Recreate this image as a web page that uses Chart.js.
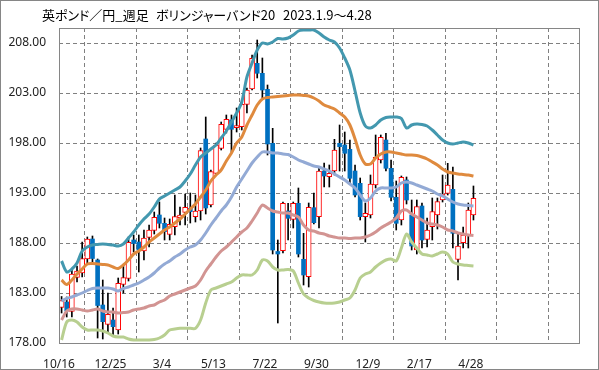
<!DOCTYPE html>
<html>
<head>
<meta charset="utf-8">
<script src="https://cdn.jsdelivr.net/npm/chart.js@4/dist/chart.umd.min.js"></script>
<style>
  body { margin: 0; background: #fff; }
  #wrap { position: relative; width: 599px; height: 370px; }
  #title { position: absolute; top: 5px; left: 0; font: 13px "Noto Sans CJK JP"; color: #000; font-feature-settings: "palt"; white-space: nowrap; }
  #title span { position: absolute; top: 0; }
</style>
</head>
<body>
<div id="wrap">
  <canvas id="chart" width="599" height="370"></canvas>
  <div id="title"><span style="left:42px">英ポンド／円_週足</span><span style="left:156px">ボリンジャーバンド20</span><span style="left:283px">2023.1.9〜4.28</span></div>
</div>
<script>
// ラベル（10週ごと）
const weekLabels = ["10/16", "12/25", "3/4", "5/13", "7/22", "9/30", "12/9", "2/17", "4/28", "", ""];
const yTicks = [178, 183, 188, 193, 198, 203, 208];

// 週足 OHLC
const opens = [181.55, 182.1, 181.15, 184.55, 185.0, 186.4, 188.4, 186.3, 181.8, 179.85,
  180.3, 179.3, 183.87, 184.47, 188.3, 188.1, 187.2, 188.55, 189.25, 190.8,
  189.97, 188.87, 189.63, 190.53, 191.07, 191.47, 190.63, 191.2, 198.4, 191.8,
  194.97, 197.47, 199.37, 200.3, 199.53, 199.63, 201.87, 203.4, 205.97, 204.97,
  203.37, 197.97, 187.15, 187.23, 191.2, 190.37, 191.97, 186.37, 184.63, 191.53,
  190.63, 195.2, 194.63, 195.2, 197.97, 197.8, 197.37, 195.2, 193.97, 190.63,
  190.8, 193.8, 196.3, 198.3, 195.47, 192.57, 190.3, 194.3, 190.8, 187.3,
  191.7, 188.37, 189.63, 190.8, 192.3, 192.97, 193.37, 186.37, 188.03, 188.8,
  190.8];
const highs = [182.65, 182.6, 185.3, 185.7, 188.1, 188.6, 188.7, 186.4, 184.3, 183.0,
  181.5, 184.5, 185.8, 188.6, 188.8, 188.8, 189.3, 189.8, 191.1, 192.1,
  190.5, 190.4, 192.8, 191.6, 192.9, 193.0, 192.8, 197.5, 200.6, 195.3,
  198.0, 200.1, 200.8, 200.8, 201.5, 202.1, 203.5, 206.8, 208.3, 206.5,
  203.8, 199.47, 188.3, 192.1, 191.97, 192.1, 193.5, 188.97, 192.0, 193.0,
  195.6, 196.0, 195.8, 198.37, 199.8, 199.1, 198.3, 195.8, 194.5, 192.0,
  194.8, 198.8, 198.8, 198.97, 196.3, 194.2, 194.7, 194.6, 192.3, 192.3,
  192.0, 190.5, 192.5, 192.5, 194.8, 195.97, 195.6, 188.97, 189.6, 192.0,
  193.7];
const lows = [181.0, 180.6, 180.6, 184.1, 184.6, 186.0, 186.0, 178.5, 178.4, 179.0,
  178.8, 178.9, 183.0, 184.2, 187.1, 185.1, 186.3, 187.6, 188.9, 189.5,
  188.3, 188.3, 188.8, 189.8, 189.8, 190.0, 190.1, 190.3, 190.9, 191.6,
  194.8, 197.3, 199.0, 197.1, 199.1, 199.3, 201.0, 203.3, 204.5, 202.5,
  196.8, 186.9, 180.0, 187.0, 188.3, 189.5, 186.6, 183.8, 183.6, 189.9,
  189.5, 193.6, 193.6, 194.8, 195.2, 195.2, 194.0, 192.6, 190.3, 188.1,
  190.5, 193.5, 196.0, 195.2, 192.2, 189.3, 189.8, 191.9, 187.3, 186.9,
  187.5, 187.6, 188.3, 189.4, 192.1, 192.8, 187.5, 184.3, 187.5, 187.5,
  190.3];
const closes = [182.25, 181.2, 184.9, 185.2, 186.45, 188.4, 186.45, 181.75, 180.13, 180.87,
  179.63, 183.97, 184.55, 188.07, 187.95, 187.3, 188.5, 189.3, 190.57, 189.97,
  189.13, 189.87, 190.63, 190.8, 191.57, 191.13, 191.2, 197.23, 191.5, 195.13,
  197.8, 199.87, 200.37, 199.37, 199.63, 201.87, 203.3, 206.47, 204.97, 203.3,
  197.9, 187.3, 186.9, 191.97, 190.47, 191.97, 186.9, 184.8, 191.57, 190.03,
  195.2, 194.7, 194.97, 197.3, 197.63, 196.97, 194.47, 192.8, 190.63, 190.97,
  193.9, 196.57, 198.57, 195.47, 192.57, 189.97, 194.57, 192.3, 187.7, 191.63,
  188.3, 189.3, 191.13, 192.13, 192.9, 193.8, 188.97, 187.7, 188.8, 191.3,
  192.47];

// ボリンジャーバンド（+2σ, +1σ, 移動平均, -1σ, -2σ）
const upper2 = [186.2, 185.1, 185.4, 186.0, 187.2, 187.6, 187.8, 187.85, 187.9, 187.85,
  187.8, 187.7, 187.9, 188.5, 189.1, 189.8, 190.4, 190.9, 191.6, 192.4,
  192.7, 193.0, 193.3, 193.6, 194.2, 194.9, 195.8, 196.6, 197.0, 197.4,
  197.8, 198.5, 199.2, 200.1, 201.0, 202.1, 204.6, 206.0, 207.3, 208.0,
  207.9, 208.1, 208.45, 208.4, 208.5, 208.8, 209.2, 209.3, 209.3, 209.3,
  209.0, 208.6, 208.3, 208.1, 207.5, 206.5, 205.3, 203.2, 201.0, 199.7,
  199.5, 199.8, 200.3, 200.55, 200.6, 200.6, 200.45, 199.5, 199.8, 199.9,
  199.85, 199.7, 199.3, 198.8, 198.3, 198.0, 197.9, 198.0, 198.1, 198.0,
  197.8];
const upper1 = [184.3, 183.85, 184.3, 184.9, 185.4, 185.9, 185.95, 185.9, 185.85, 185.8,
  185.6, 185.45, 185.8, 186.3, 186.9, 187.2, 187.6, 188.1, 188.5, 188.9,
  189.3, 189.6, 190.0, 190.4, 190.9, 191.4, 191.9, 192.6, 193.3, 194.2,
  194.8, 195.3, 196.2, 197.0, 198.0, 198.6, 199.8, 200.8, 201.8, 202.4,
  202.55, 202.6, 202.65, 202.7, 202.75, 202.8, 202.8, 202.75, 202.7, 202.5,
  202.2, 201.8, 201.6, 201.4, 201.0, 200.6, 199.8, 198.4, 196.8, 195.9,
  195.9, 196.5, 196.9, 197.1, 197.1, 197.0, 196.9, 196.8, 196.8, 196.75,
  196.6, 196.4, 196.1, 195.8, 195.4, 195.1, 195.0, 194.9, 194.85, 194.8,
  194.7];
const middle = [182.2, 182.45, 182.6, 182.8, 183.0, 183.25, 183.45, 183.5, 183.5, 183.5,
  183.4, 183.2, 183.45, 183.6, 183.8, 184.0, 184.3, 184.6, 185.0, 185.5,
  185.9, 186.2, 186.6, 186.9, 187.3, 187.6, 187.8, 188.3, 189.0, 189.8,
  190.5, 191.2, 191.8, 192.6, 193.6, 194.4, 195.2, 196.0, 196.6, 197.1,
  197.1, 197.0, 197.0, 196.9, 196.85, 196.6, 196.3, 196.1, 195.9, 195.7,
  195.6, 195.4, 195.2, 194.9, 194.6, 194.3, 193.9, 193.5, 192.8, 192.2,
  192.5, 193.2, 193.5, 193.5, 193.5, 193.6, 194.0, 194.1, 194.0, 193.8,
  193.6, 193.4, 193.2, 192.9, 192.7, 192.4, 192.1, 191.9, 191.8, 191.75,
  191.7];
const lower1 = [180.3, 181.2, 181.4, 181.4, 181.3, 181.2, 181.3, 181.4, 181.2, 181.1,
  181.1, 181.0, 181.05, 181.1, 181.3, 181.4, 181.5, 181.7, 181.8, 182.1,
  182.3, 182.7, 182.9, 183.1, 183.3, 183.5, 183.7, 184.3, 185.2, 185.9,
  186.6, 187.2, 187.6, 188.1, 188.6, 189.1, 189.5, 190.2, 191.0, 191.8,
  191.5, 191.2, 191.1, 191.0, 191.0, 190.8, 190.6, 189.8, 189.3, 189.2,
  189.0, 188.9, 188.7, 188.6, 188.5, 188.5, 188.45, 188.5, 188.5, 188.6,
  188.8, 189.1, 189.5, 189.8, 190.1, 190.5, 191.2, 191.3, 190.9, 190.6,
  190.3, 190.0, 189.9, 189.8, 189.6, 189.3, 189.2, 189.0, 188.9, 188.8,
  188.75];
const lower2 = [178.3, 180.1, 180.3, 180.1, 179.6, 179.3, 179.3, 179.3, 179.2, 179.0,
  178.7, 178.6, 178.6, 178.4, 178.3, 178.3, 178.3, 178.3, 178.35, 178.5,
  178.8, 179.3, 179.4, 179.47, 179.47, 179.47, 179.47, 180.3, 182.0, 183.3,
  183.5, 183.7, 183.9, 184.1, 184.5, 184.8, 184.8, 184.8, 185.3, 186.3,
  186.2, 185.6, 185.3, 185.3, 185.35, 185.2, 184.0, 182.9, 182.5, 182.25,
  182.1, 182.0, 181.97, 182.0, 182.1, 182.3, 182.5, 183.3, 184.5, 184.9,
  185.1, 185.6, 186.0, 186.3, 186.4, 186.2, 187.5, 188.9, 188.1, 187.5,
  186.9, 186.8, 186.7, 186.9, 187.1, 186.9, 186.1, 185.9, 185.8, 185.75,
  185.7];

// ローソク足のデータを作る（陽線・陰線・ヒゲ）
const wicks = [];
const upBodies = [];
const downBodies = [];
closes.forEach((c, i) => {
  const x = i + 0.5;
  wicks.push({ x: x, y: [lows[i], highs[i]] });
  if (c >= opens[i]) {
    upBodies.push({ x: x, y: [opens[i], c] });
  } else {
    downBodies.push({ x: x, y: [c, opens[i]] });
  }
});

const toPoints = (arr) => arr.map((v, i) => ({ x: i + 0.5, y: v }));

const bandLine = (label, data, color) => ({
  type: "line",
  label: label,
  data: toPoints(data),
  borderColor: color,
  borderWidth: 3,
  pointRadius: 0,
  tension: 0.3,
  fill: false,
  order: 1
});

// 枠線と背景
const framePlugin = {
  id: "frame",
  beforeDraw(chart) {
    const ctx = chart.ctx;
    ctx.save();
    ctx.fillStyle = "#fff";
    ctx.fillRect(0, 0, chart.width, chart.height);
    ctx.restore();
  },
  afterDraw(chart) {
    const { ctx, chartArea } = chart;
    ctx.save();
    ctx.strokeStyle = "#868686";
    ctx.lineWidth = 1;
    ctx.strokeRect(chartArea.left + 0.5, chartArea.top + 0.5, chartArea.right - chartArea.left, chartArea.bottom - chartArea.top);
    ctx.strokeRect(0.5, 0.5, chart.width - 1, chart.height - 1);
    ctx.restore();
  }
};

const tickFont = { family: "Noto Sans", size: 12 };

new Chart(document.getElementById("chart"), {
  type: "bar",
  data: {
    datasets: [
      bandLine("+2σ", upper2, "#4398AF"),
      bandLine("+1σ", upper1, "#DF8A3E"),
      bandLine("移動平均", middle, "#93AAD5"),
      bandLine("-1σ", lower1, "#D29492"),
      bandLine("-2σ", lower2, "#B8CF90"),
      {
        label: "陽線",
        data: upBodies,
        backgroundColor: "#fff",
        borderColor: "#ff0000",
        borderWidth: 1,
        borderSkipped: false,
        barThickness: 5,
        minBarLength: 2,
        grouped: false,
        order: 2
      },
      {
        label: "陰線",
        data: downBodies,
        backgroundColor: "#0070C0",
        borderWidth: 0,
        barThickness: 4,
        minBarLength: 2,
        grouped: false,
        order: 2
      },
      {
        label: "ヒゲ",
        data: wicks,
        backgroundColor: "#000",
        barThickness: 1,
        grouped: false,
        order: 3
      }
    ]
  },
  options: {
    responsive: false,
    animation: false,
    layout: { padding: { top: 28, right: 20, left: 0, bottom: 0 } },
    plugins: {
      legend: { display: false },
      tooltip: { enabled: false },
      title: { display: false }
    },
    scales: {
      x: {
        type: "linear",
        min: 0,
        max: 101,
        offset: false,
        afterFit: (s) => { s.height = 27; },
        afterBuildTicks: (s) => { s.ticks = weekLabels.map((_, k) => ({ value: k * 10 })); },
        ticks: {
          callback: (v) => weekLabels[Math.round(v / 10)] || "",
          autoSkip: false,
          maxRotation: 0,
          padding: 14,
          color: "#222",
          font: tickFont
        },
        grid: { color: "#808080", lineWidth: 1, drawTicks: false },
        border: { display: false, dash: [4, 3] }
      },
      y: {
        min: 178,
        max: 209.5,
        afterFit: (s) => { s.width = 59; },
        afterBuildTicks: (s) => { s.ticks = yTicks.map((v) => ({ value: v })); },
        ticks: {
          callback: (v) => Number(v).toFixed(2),
          padding: 13,
          color: "#222",
          font: tickFont
        },
        grid: { color: "#808080", lineWidth: 1, drawTicks: false },
        border: { display: false, dash: [4, 3] }
      }
    }
  },
  plugins: [framePlugin]
});
</script>
</body>
</html>
